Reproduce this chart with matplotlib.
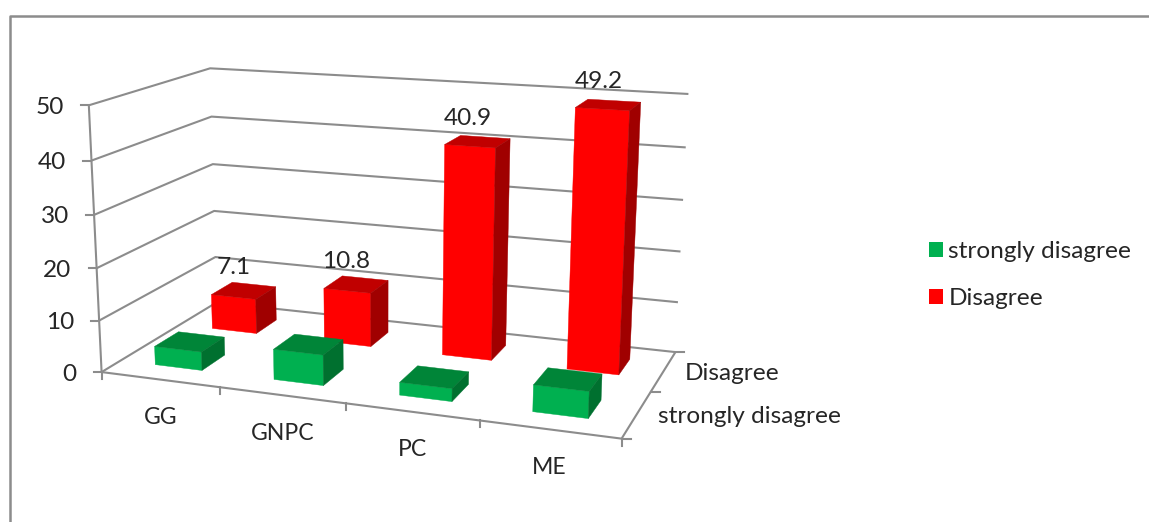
import numpy as np
import matplotlib
matplotlib.use('Agg')
import matplotlib.pyplot as plt
from matplotlib.patches import Patch, Polygon

plt.rcParams['font.family'] = ['Lato', 'DejaVu Sans']

# Du lieu bieu do
categories = ['GG', 'GNPC', 'PC', 'ME']
strongly_disagree = [3.6, 5.8, 2.4, 4.9]
disagree = [7.1, 10.8, 40.9, 49.2]
data_labels = ['7.1', '10.8', '40.9', '49.2']
series_names = ['strongly disagree', 'Disagree']
z_ticks = [0, 10, 20, 30, 40, 50]

GRID = '#8c8c8c'
TEXT = '#262626'
FONT = 17.6

# Goc nhin phoi canh: (cot, hang, gia tri) -> vi tri tren hinh
view_world = np.array([
    [0, 0, 0], [0, 0, 10], [0, 0, 20], [0, 0, 30], [0, 0, 40], [0, 0, 50],
    [0, 2, 0], [0, 2, 10], [0, 2, 20], [0, 2, 30], [0, 2, 40], [0, 2, 50],
    [4, 2, 0], [4, 2, 10], [4, 2, 20], [4, 2, 30], [4, 2, 40], [4, 2, 50],
    [1, 0, 0], [2, 0, 0], [3, 0, 0], [4, 0, 0], [4, 1, 0],
], dtype=float)
view_pixel = np.array([
    [102, 372], [100, 320], [97, 268], [95, 215], [91, 160], [88, 105],
    [216, 303], [215, 257], [214, 211], [213, 164], [212, 117], [210, 68],
    [675, 351], [678, 302], [681, 252], [683, 200], [686, 147], [688, 95],
    [220, 388], [346, 404], [479, 421], [621, 439], [652, 391],
], dtype=float)


def fit_camera(world, pixel):
    rows, rhs = [], []
    for (x, y, z), (u, v) in zip(world, pixel):
        rows.append([x, y, z, 1, 0, 0, 0, 0, -u * x, -u * y, -u * z])
        rows.append([0, 0, 0, 0, x, y, z, 1, -v * x, -v * y, -v * z])
        rhs += [u, v]
    p = np.linalg.lstsq(np.array(rows), np.array(rhs), rcond=None)[0]
    return np.append(p, 1).reshape(3, 4)


camera = fit_camera(view_world, view_pixel)


def project(x, y, z):
    u, v, w = camera @ np.array([x, y, z, 1.0])
    return u / w, v / w


def draw_bar(ax, col, row, value, front, top, side):
    x0, x1 = col + 0.30, col + 0.70
    y0, y1 = row + 0.30, row + 0.70
    faces = [
        ([(x0, y0, 0), (x1, y0, 0), (x1, y0, value), (x0, y0, value)], front),
        ([(x0, y0, value), (x1, y0, value), (x1, y1, value), (x0, y1, value)], top),
        ([(x1, y0, 0), (x1, y1, 0), (x1, y1, value), (x1, y0, value)], side),
    ]
    for corners, color in faces:
        ax.add_patch(Polygon([project(*c) for c in corners], closed=True, zorder=3,
                             facecolor=color, edgecolor=color, linewidth=0.3))


fig = plt.figure(figsize=(11.49, 5.22), dpi=100)
ax = fig.add_axes([0, 0, 1, 1])
ax.set_xlim(0, 1149)
ax.set_ylim(522, 0)
ax.axis('off')

# Khung ngoai
ax.plot([10, 10, 1149], [522, 16, 16], color=GRID, lw=1.8)


def line(points, lw=1.5):
    xs, ys = zip(*[project(*p) for p in points])
    ax.plot(xs, ys, color=GRID, lw=lw, solid_capstyle='butt')


# Luoi tuong sau va truc gia tri
for z in z_ticks:
    line([(0, 0, z), (0, 2, z), (4, 2, z)])
    u, v = project(0, 0, z)
    ax.plot([u - 8, u], [v, v], color=GRID, lw=1.5)
    ax.text(u - 25, v + 2, str(z), ha='right', va='center', fontsize=FONT, color=TEXT)
line([(0, 0, 0), (0, 0, 50)])

# San va cac truc
line([(0, 0, 0), (4, 0, 0), (4, 2, 0)])
for i in range(len(categories) + 1):
    u, v = project(i, 0, 0)
    ax.plot([u, u], [v, v + 7], color=GRID, lw=1.5)
for j in range(3):
    u, v = project(4, j, 0)
    ax.plot([u, u + 9], [v, v], color=GRID, lw=1.5)

for i, name in enumerate(categories):
    u, v = project(i + 0.5, 0, 0)
    ax.text(u, v + 38, name, ha='center', va='center', fontsize=FONT - 1, color=TEXT)
for j, name in enumerate(series_names):
    u, v = project(4, j + 0.5, 0)
    ax.text(u + 21, v + 2, name, ha='left', va='center', fontsize=FONT, color=TEXT)

# Ve day sau truoc roi den day truoc
for i, value in enumerate(disagree):
    draw_bar(ax, i, 1, value, '#ff0000', '#c00000', '#a00000')
for i, value in enumerate(strongly_disagree):
    draw_bar(ax, i, 0, value, '#00b050', '#008538', '#00702f')

for i, (value, label) in enumerate(zip(disagree, data_labels)):
    u, v = project(i + 0.5, 1.5, value)
    ax.text(u - 10, v - 23, label, ha='center', va='center', fontsize=FONT, color=TEXT, zorder=4)

handles = [Patch(facecolor='#00b050'), Patch(facecolor='#ff0000')]
ax.legend(handles, series_names, loc='upper left', bbox_to_anchor=(929, 241),
          bbox_transform=ax.transData, frameon=False, fontsize=FONT,
          handlelength=0.57, handleheight=0.57, handletextpad=0.22,
          labelspacing=1.08, borderpad=0, borderaxespad=0, labelcolor=TEXT)

plt.savefig('out.png', dpi=100)
